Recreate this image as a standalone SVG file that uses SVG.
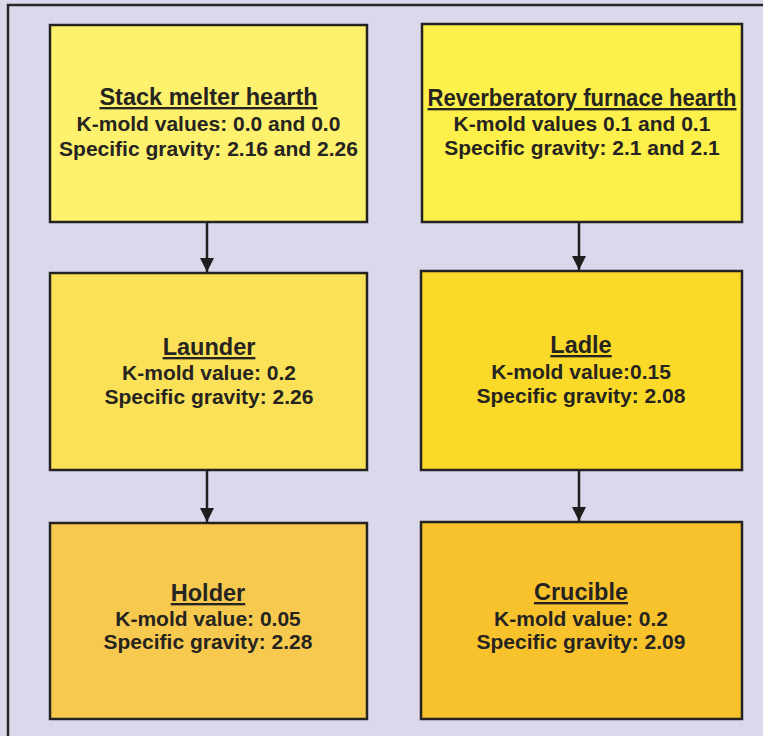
<svg xmlns="http://www.w3.org/2000/svg" width="763" height="736" viewBox="0 0 763 736">
<defs>
<style>
.box{stroke:#232323;stroke-width:2.5}
.t{font-family:"Liberation Sans",Arial,Helvetica,sans-serif;font-weight:bold;fill:#262420;text-anchor:middle}
.ti{font-size:23.5px;text-decoration:underline}
.b{font-size:21px}
.conn{stroke:#1e1e1e;stroke-width:2.5;fill:none}
</style>
<marker id="ah" markerUnits="userSpaceOnUse" markerWidth="14" markerHeight="16" refX="14" refY="7" orient="auto">
<path d="M0,0 L14,7 L0,14 Z" fill="#1e1e1e"/>
</marker>
</defs>
<rect x="0" y="0" width="763" height="736" fill="#dcd8ec"/>
<path d="M8,736 V5 H763" fill="none" stroke="#262626" stroke-width="2.5"/>

<g id="connectors">
<line class="conn" x1="207" y1="222" x2="207" y2="272" marker-end="url(#ah)"/>
<line class="conn" x1="579" y1="222" x2="579" y2="270" marker-end="url(#ah)"/>
<line class="conn" x1="207" y1="470" x2="207" y2="522" marker-end="url(#ah)"/>
<line class="conn" x1="579" y1="470" x2="579" y2="521" marker-end="url(#ah)"/>
</g>

<g id="stack-melter-hearth">
<rect class="box" x="50" y="25" width="317" height="197" fill="#fdf16e"/>
<text class="t ti" x="208.5" y="105">Stack melter hearth</text>
<text class="t b" x="208.5" y="131">K-mold values: 0.0 and 0.0</text>
<text class="t b" x="208.5" y="156">Specific gravity: 2.16 and 2.26</text>
</g>

<g id="reverberatory-furnace-hearth">
<rect class="box" x="422" y="24" width="320" height="198" fill="#fef04a"/>
<text class="t ti" x="582" y="106" textLength="309" lengthAdjust="spacingAndGlyphs">Reverberatory furnace hearth</text>
<text class="t b" x="582" y="131">K-mold values 0.1 and 0.1</text>
<text class="t b" x="582" y="155">Specific gravity: 2.1 and 2.1</text>
</g>

<g id="launder">
<rect class="box" x="50" y="273" width="317" height="197" fill="#fbe158"/>
<text class="t ti" x="209" y="355">Launder</text>
<text class="t b" x="209" y="380">K-mold value: 0.2</text>
<text class="t b" x="209" y="404">Specific gravity: 2.26</text>
</g>

<g id="ladle">
<rect class="box" x="421" y="271" width="321" height="199" fill="#fbd928"/>
<text class="t ti" x="581" y="353">Ladle</text>
<text class="t b" x="581" y="379">K-mold value:0.15</text>
<text class="t b" x="581" y="403">Specific gravity: 2.08</text>
</g>

<g id="holder">
<rect class="box" x="50" y="523" width="317" height="196" fill="#f7c94e"/>
<text class="t ti" x="208" y="601">Holder</text>
<text class="t b" x="208" y="626">K-mold value: 0.05</text>
<text class="t b" x="208" y="649">Specific gravity: 2.28</text>
</g>

<g id="crucible">
<rect class="box" x="421" y="522" width="321" height="197" fill="#f8c22c"/>
<text class="t ti" x="581" y="600">Crucible</text>
<text class="t b" x="581" y="626">K-mold value: 0.2</text>
<text class="t b" x="581" y="649">Specific gravity: 2.09</text>
</g>
</svg>
